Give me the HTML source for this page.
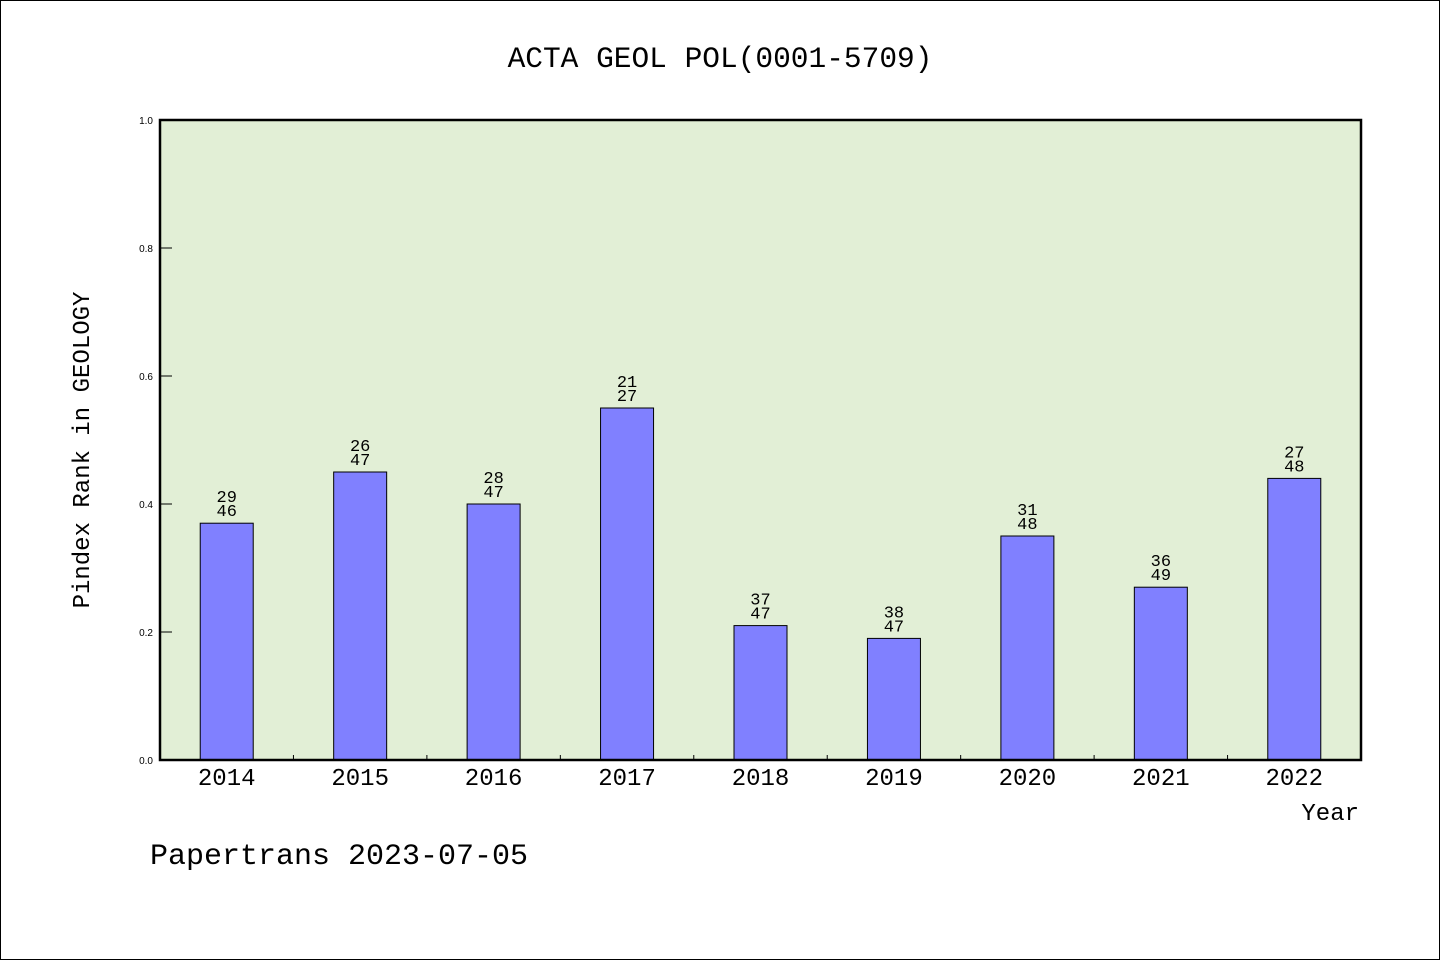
<!DOCTYPE html>
<html><head><meta charset="utf-8"><style>
html,body{margin:0;padding:0;background:#fff}
svg text{font-family:"Liberation Mono","WenQuanYi Zen Hei",monospace;fill:#000}
svg text.ytl{font-family:"Liberation Sans",sans-serif}
</style></head><body>
<svg width="1440" height="960" viewBox="0 0 1440 960">
<rect x="0.5" y="0.5" width="1439" height="959" fill="#fff" stroke="#000"/>
<text x="720" y="67" font-size="29.5" text-anchor="middle">ACTA GEOL POL(0001-5709)</text>
<rect x="160" y="120" width="1201" height="640" fill="#e2efd6"/>
<g id="bars"></g>
<g id="axes"></g>
<rect x="160" y="120" width="1201" height="640" fill="none" stroke="#000" stroke-width="2.5"/>
<text transform="translate(89,450) rotate(-90)" font-size="24" text-anchor="middle">Pindex Rank in GEOLOGY</text>
<text x="1359" y="820" font-size="24" text-anchor="end">Year</text>
<text x="150" y="864" font-size="30">Papertrans 2023-07-05</text>
</svg>
<script>
const years=["2014","2015","2016","2017","2018","2019","2020","2021","2022"];
const values=[0.37,0.45,0.40,0.55,0.21,0.19,0.35,0.27,0.44];
const ranks=["29","26","28","21","37","38","31","36","27"];
const totals=["46","47","47","27","47","47","48","49","48"];
const yTicks=[0,0.2,0.4,0.6,0.8,1.0];
const NS="http://www.w3.org/2000/svg";
const x0=160,x1=1361,y0=760,y1=120;
const band=(x1-x0)/years.length;
const xs=i=>x0+band*(i+0.5);
const ys=v=>y0-(y0-y1)*v;
const bars=document.getElementById('bars'),axes=document.getElementById('axes');
function mk(t,a,p){const e=document.createElementNS(NS,t);for(const k in a)e.setAttribute(k,a[k]);p.appendChild(e);return e;}
years.forEach((yr,i)=>{
  const cx=xs(i),w=53;
  const r=mk('rect',{x:cx-w/2,y:ys(values[i]),width:w,height:y0-ys(values[i]),fill:'#8080ff',stroke:'#000','stroke-width':1},bars);
  
  
  const t1=mk('text',{x:cx,y:ys(values[i])-21,'font-size':17,'text-anchor':'middle'},bars);
  t1.textContent=ranks[i];
  
  
  const t2=mk('text',{x:cx,y:ys(values[i])-7,'font-size':17,'text-anchor':'middle'},bars);
  t2.textContent=totals[i];
  
  
  const tl=mk('text',{x:cx,y:785,'font-size':24,'text-anchor':'middle'},axes);
  tl.textContent=yr;
  
  
  if(i>0){const tk=mk('line',{x1:x0+band*i,x2:x0+band*i,y1:y0,y2:y0-5,stroke:'#000'},axes);
  
  }
});
yTicks.forEach(v=>{
  const y=ys(v);
  const tk=mk('line',{x1:x0,x2:x0+12,y1:y,y2:y,stroke:'#000'},axes);
  
  
  const t=mk('text',{x:x0-7,y:y+4,'font-size':10,'text-anchor':'end','class':'ytl'},axes);
  t.textContent=v.toFixed(1);
  
  
});
</script>
</body></html>
